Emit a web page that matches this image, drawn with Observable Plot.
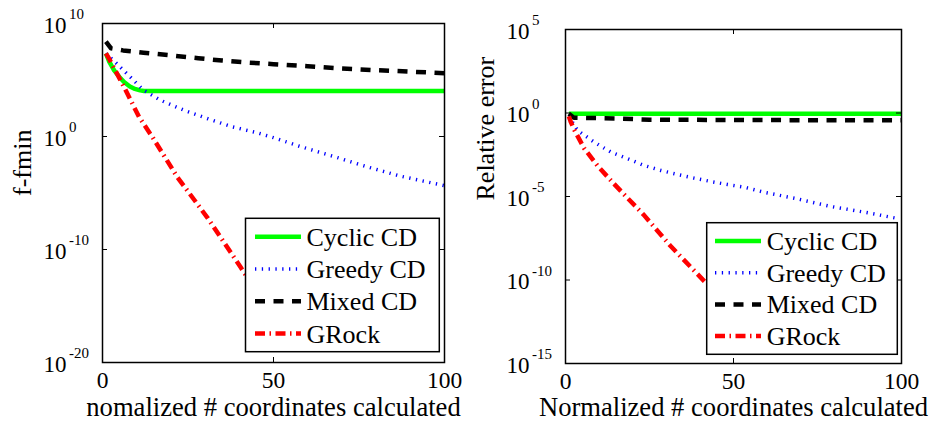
<!DOCTYPE html>
<html>
<head>
<meta charset="utf-8">
<script src="https://cdn.jsdelivr.net/npm/d3@7"></script>
<script src="https://cdn.jsdelivr.net/npm/@observablehq/plot@0.6"></script>
<style>
  html, body { margin: 0; padding: 0; background: #fff; }
  #chart { position: relative; width: 933px; height: 423px; }
  #chart svg { position: absolute; top: 0; overflow: visible; }
  #chart svg, #chart svg text { font-family: "Liberation Serif", "Tinos", "Times New Roman", "Times", "DejaVu Serif", serif !important; }
</style>
</head>
<body>
<div id="chart"></div>
<script>
// Methods compared in both panels (drawing order = legend order)
const methods = ["Cyclic CD", "Greedy CD", "Mixed CD", "GRock"];

// Axis ticks
const xTicks = [0, 50, 100];
const objYTicks = [1e-20, 1e-10, 1, 1e10];
const errYTicks = [1e-15, 1e-10, 1e-5, 1, 1e5];

// ---- Left panel: f - fmin, stored as log10 values ----
const objCyclicX   = [1, 2, 3.4, 5, 6.3, 8, 9.2, 11, 12.1, 15, 100];
const objCyclicLog = [7.35, 6.6, 5.86, 5.25, 4.82, 4.42, 4.24, 4.08, 4.03, 4.03, 4.03];

const objGreedyX   = [1, 4, 8, 12, 17, 24, 31, 38, 45, 50, 58, 68, 77, 87, 100];
const objGreedyLog = [7.35, 6.5, 5.3, 4.1, 3.2, 2.3, 1.55, 0.85, 0.35, -0.1, -0.9, -1.8, -2.65, -3.5, -4.35];

const objMixedX   = [1, 2.5, 6, 12, 20, 28, 35, 42, 50, 60, 70, 80, 90, 100];
const objMixedLog = [8.4, 7.8, 7.62, 7.42, 7.18, 6.93, 6.72, 6.55, 6.4, 6.22, 6.02, 5.87, 5.74, 5.6];

const objGrockX   = [1, 1.9, 6.3, 10.7, 14.6, 21.9, 30.6, 40.4, 44];
const objGrockLog = [7.35, 6.9, 4.38, 1.72, -0.05, -3.6, -7.15, -11.58, -13.2];

// ---- Right panel: relative error, stored as log10 values ----
const errCyclicX   = [1, 100];
const errCyclicLog = [-0.04, -0.04];

const errGreedyX   = [1, 3.6, 8.5, 13.5, 18.5, 23.4, 28.4, 33.3, 38.3, 43.2, 48.2, 53.2, 59, 69, 79, 89, 99.5];
const errGreedyLog = [-0.2, -1.04, -1.74, -2.34, -2.74, -3.14, -3.44, -3.68, -3.9, -4.1, -4.28, -4.44, -4.74, -5.14, -5.6, -5.94, -6.34];

const errMixedX   = [1, 2.5, 10, 17, 25, 50, 100];
const errMixedLog = [-0.05, -0.28, -0.31, -0.34, -0.4, -0.42, -0.44];

const errGrockX   = [1, 1.6, 2.6, 5.5, 9.5, 14, 18.5, 23.3, 31.2, 41.2, 44];
const errGrockLog = [-0.2, -0.55, -1.0, -2.1, -3.15, -4.15, -5.1, -6.1, -7.95, -10.05, -10.65];

// Line styles per method
const lineStyle = {
  "Cyclic CD": { stroke: "#00ff00", strokeWidth: 4.5, strokeDasharray: null },
  "Greedy CD": { stroke: "#0000ff", strokeWidth: 3.5, strokeDasharray: "1.3,5.5" },
  "Mixed CD":  { stroke: "#000000", strokeWidth: 4.5, strokeDasharray: "10,8.5" },
  "GRock":     { stroke: "#ff0000", strokeWidth: 4.5, strokeDasharray: "10,4.5,1.5,4.5" }
};

function series(xs, logs) {
  return xs.map((x, i) => ({ x, y: 10 ** logs[i] }));
}

const FONT = "Liberation Serif, Tinos, Times New Roman, Times, DejaVu Serif, serif";

function panel(opts) {
  const { width, marginLeft, marginRight, marginTop, marginBottom, yDomain, yTicks, xLabel, yLabel, data } = opts;
  const height = 423;
  const fw = width - marginLeft - marginRight;
  const fh = height - marginTop - marginBottom;
  const lineMarks = methods.map((m, i) => {
    const s = lineStyle[m];
    return Plot.line(data[i], {
      x: "x", y: "y",
      stroke: s.stroke, strokeWidth: s.strokeWidth,
      strokeDasharray: s.strokeDasharray || undefined,
      strokeLinecap: "butt", strokeLinejoin: "round"
    });
  });
  const svg = Plot.plot({
    width, height, marginLeft, marginRight, marginTop, marginBottom,
    style: { fontFamily: FONT, fontSize: "23px", color: "black", background: "transparent", overflow: "visible" },
    x: { domain: [0, 100] },
    y: { type: "log", domain: yDomain, axis: null },
    marks: [
      ...lineMarks,
      // inward ticks on all four sides
      Plot.tickY(yTicks, { y: d => d, insetRight: fw - 5, stroke: "black" }),
      Plot.tickY(yTicks, { y: d => d, insetLeft: fw - 5, stroke: "black" }),
      Plot.tickX(xTicks, { x: d => d, insetTop: fh - 5, stroke: "black" }),
      Plot.tickX(xTicks, { x: d => d, insetBottom: fh - 5, stroke: "black" }),
      Plot.frame({ stroke: "black", strokeWidth: 1.5 }),
      Plot.axisX(xTicks, { tickSize: 0, tickPadding: 9, label: null, fontSize: 23.5 }),
      // y tick labels as 10 with a raised exponent
      Plot.text(yTicks, { y: d => d, text: () => "10", frameAnchor: "left", textAnchor: "start", lineAnchor: "middle", dx: -59, dy: 2, fontSize: 23 }),
      Plot.text(yTicks, { y: d => d, text: d => String(Math.round(Math.log10(d))), frameAnchor: "left", textAnchor: "start", lineAnchor: "middle", dx: -33.5, dy: -9.3, fontSize: 15 }),
      Plot.text([xLabel], { text: d => d, frameAnchor: "bottom", lineAnchor: "middle", dy: opts.xLabelDy, fontSize: 26.6 }),
      Plot.text([yLabel], { text: d => d, frameAnchor: "left", lineAnchor: "middle", rotate: -90, dx: -80, dy: opts.yLabelDy, fontSize: 26 })
    ]
  });

  // legend box in the lower right of the frame
  const L = opts.legend;
  const g = d3.select(svg).append("g")
    .attr("font-family", FONT).attr("font-size", 26).attr("text-anchor", "start");
  g.append("rect")
    .attr("x", L.x).attr("y", L.y).attr("width", L.w).attr("height", L.h)
    .attr("fill", "white").attr("stroke", "black").attr("stroke-width", 1.5);
  methods.forEach((m, i) => {
    const s = lineStyle[m];
    const cy = L.y + L.first + i * L.step;
    g.append("line")
      .attr("x1", L.x + L.lx0).attr("x2", L.x + L.lx1).attr("y1", cy).attr("y2", cy)
      .attr("stroke", s.stroke).attr("stroke-width", s.strokeWidth)
      .attr("stroke-dasharray", s.strokeDasharray);
    g.append("text")
      .attr("x", L.x + L.tx).attr("y", cy + 9).attr("fill", "black")
      .attr("text-anchor", "start")
      .text(m);
  });
  return svg;
}

const left = panel({
  width: 466, marginLeft: 102, marginRight: 22, marginTop: 23, marginBottom: 61,
  yDomain: [1e-20, 1e10], yTicks: objYTicks,
  xLabel: "nomalized # coordinates calculated", yLabel: "f-fmin",
  xLabelDy: 45, yLabelDy: 3,
  data: [
    series(objCyclicX, objCyclicLog),
    series(objGreedyX, objGreedyLog),
    series(objMixedX, objMixedLog),
    series(objGrockX, objGrockLog)
  ],
  legend: { x: 245.5, y: 218.3, w: 193.8, h: 133.4, first: 18.4, step: 32.3, lx0: 9.5, lx1: 55.5, tx: 61 }
});
left.style.left = "0px";

const right = panel({
  width: 467, marginLeft: 99, marginRight: 32, marginTop: 29, marginBottom: 60,
  yDomain: [1e-15, 1e5], yTicks: errYTicks,
  xLabel: "Normalized # coordinates calculated", yLabel: "Relative error",
  xLabelDy: 44, yLabelDy: 4,
  data: [
    series(errCyclicX, errCyclicLog),
    series(errGreedyX, errGreedyLog),
    series(errMixedX, errMixedLog),
    series(errGrockX, errGrockLog)
  ],
  legend: { x: 240.7, y: 222.7, w: 190.6, h: 131.6, first: 18.3, step: 31.7, lx0: 8.3, lx1: 54.3, tx: 60 }
});
right.style.left = "466px";

const chart = document.getElementById("chart");
chart.appendChild(left);
chart.appendChild(right);
</script>
</body>
</html>
